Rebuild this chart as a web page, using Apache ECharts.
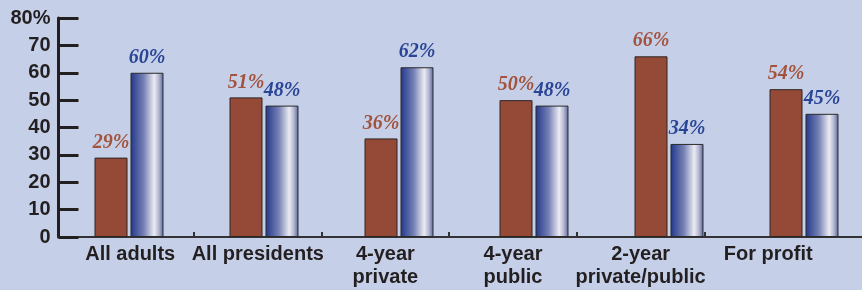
<!DOCTYPE html>
<html>
<head>
<meta charset="utf-8">
<script src="https://cdn.jsdelivr.net/npm/echarts@6/dist/echarts.min.js"></script>
<style>
  html, body { margin: 0; padding: 0; background: #c5d0e8; }
  #chart { width: 862px; height: 290px; }
</style>
</head>
<body>
<div id="chart"></div>
<script>
// chart data
const categories = ['All adults', 'All presidents', '4-year\nprivate', '4-year\npublic', '2-year\nprivate/public', 'For profit'];
const redValues = [29, 51, 36, 50, 66, 54];
const blueValues = [60, 48, 62, 48, 34, 45];
const yTickLabels = ['0', '10', '20', '30', '40', '50', '60', '70', '80%'];

const ink = '#231f20';
const redColor = '#944a37';
const redText = '#a3533d';
const blueText = '#2a4596';

const chart = echarts.init(document.getElementById('chart'));

const blueGradient = new echarts.graphic.LinearGradient(0, 0, 1, 0, [
  { offset: 0, color: '#22378a' },
  { offset: 0.4, color: '#7580b4' },
  { offset: 0.72, color: '#ebebf2' },
  { offset: 0.86, color: '#b3b6d0' },
  { offset: 1, color: '#56639f' }
]);

const barLabel = (color) => ({
  show: true,
  position: 'top',
  distance: 5,
  formatter: '{c}%',
  color: color,
  fontFamily: 'Liberation Serif',
  fontStyle: 'italic',
  fontWeight: 'bold',
  fontSize: 20
});

const option = {
  backgroundColor: '#c5d0e8',
  animation: false,
  grid: [
    // bars
    { left: 61.5, width: 810, top: 18, bottom: 53, outerBoundsMode: 'none' },
    // category labels + divider ticks (extra empty slot pushes the end tick off canvas)
    { left: 66.4, width: 765.6 + 127.6, top: 18, bottom: 53, outerBoundsMode: 'none' },
    // baseline
    { left: 58, right: 0, top: 18, bottom: 53, outerBoundsMode: 'none' }
  ],
  xAxis: [
    { gridIndex: 0, type: 'category', data: categories, show: false },
    {
      gridIndex: 1,
      type: 'category',
      data: categories.concat(['']),
      axisLine: { show: false },
      axisTick: {
        show: true,
        inside: true,
        length: 5,
        interval: (i) => i > 0 && i < categories.length,
        lineStyle: { color: '#333', width: 2 }
      },
      axisLabel: {
        interval: 0,
        margin: 6,
        color: ink,
        fontFamily: 'Liberation Sans',
        fontWeight: 'bold',
        fontSize: 20,
        lineHeight: 23
      }
    },
    {
      gridIndex: 2,
      type: 'value',
      min: 0,
      max: 1,
      axisLine: { show: true, lineStyle: { color: '#333', width: 2 } },
      axisTick: { show: false },
      axisLabel: { show: false },
      splitLine: { show: false }
    }
  ],
  yAxis: [
    {
      gridIndex: 0,
      type: 'value',
      min: 0,
      max: 80,
      interval: 10,
      offset: 3,
      axisLine: { show: true, lineStyle: { color: ink, width: 3 } },
      axisTick: { show: true, inside: true, length: 20, lineStyle: { color: ink, width: 3 } },
      axisLabel: {
        margin: 8,
        color: ink,
        fontFamily: 'Liberation Sans',
        fontWeight: 'bold',
        fontSize: 20,
        formatter: (v) => yTickLabels[Math.round(v / 10)]
      },
      splitLine: { show: false }
    },
    { gridIndex: 1, type: 'value', min: 0, max: 80, show: false },
    { gridIndex: 2, type: 'value', min: 0, max: 80, show: false }
  ],
  series: [
    {
      type: 'bar',
      xAxisIndex: 0,
      yAxisIndex: 0,
      data: redValues,
      barWidth: 33,
      barGap: '9%',
      itemStyle: { color: redColor, borderColor: '#2e2522', borderWidth: 1 },
      label: barLabel(redText)
    },
    {
      type: 'bar',
      xAxisIndex: 0,
      yAxisIndex: 0,
      data: blueValues,
      barWidth: 33,
      barGap: '9%',
      itemStyle: { color: blueGradient, borderColor: '#2a2a2a', borderWidth: 1 },
      label: barLabel(blueText)
    }
  ]
};

chart.setOption(option);
</script>
</body>
</html>
